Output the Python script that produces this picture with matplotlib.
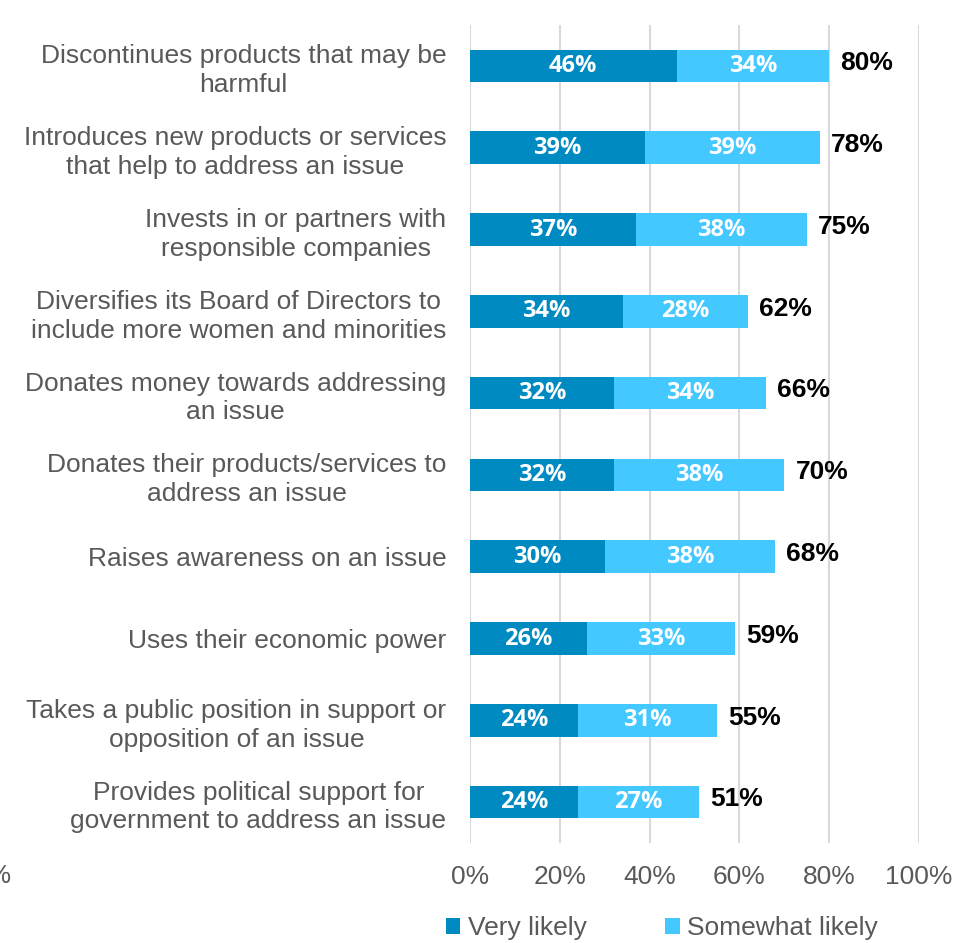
import matplotlib.pyplot as plt
import numpy as np

# Survey answers: how likely a company action is to change opinion
categories = [
    "Discontinues products that may be\nharmful",
    "Introduces new products or services\nthat help to address an issue",
    "Invests in or partners with\nresponsible companies",
    "Diversifies its Board of Directors to\ninclude more women and minorities",
    "Donates money towards addressing\nan issue",
    "Donates their products/services to\naddress an issue",
    "Raises awareness on an issue",
    "Uses their economic power",
    "Takes a public position in support or\nopposition of an issue",
    "Provides political support for\ngovernment to address an issue",
]
very_likely = [46, 39, 37, 34, 32, 32, 30, 26, 24, 24]
somewhat_likely = [34, 39, 38, 28, 34, 38, 38, 33, 31, 27]
x_ticks = [0, 20, 40, 60, 80, 100]

DARK = "#008AC2"
LIGHT = "#43C8FF"
GREY = "#595959"

fig = plt.figure(figsize=(9.55, 9.43), dpi=100)
ax = fig.add_axes([470 / 955, 1 - 843 / 943, 449 / 955, 818 / 943])

y = np.arange(len(categories))
very = np.array(very_likely)
some = np.array(somewhat_likely)
totals = very + some

ax.barh(y, very, height=0.4, color=DARK, label="Very likely", zorder=3)
ax.barh(y, some, left=very, height=0.4, color=LIGHT, label="Somewhat likely", zorder=3)

# values inside the segments
for yi, v, s in zip(y, very, some):
    ax.text(v / 2, yi, f"{v}%", ha="center", va="center", color="white",
            fontsize=17, fontweight="bold", family="Open Sans", zorder=4)
    ax.text(v + s / 2, yi, f"{s}%", ha="center", va="center", color="white",
            fontsize=17, fontweight="bold", family="Open Sans", zorder=4)
# totals to the right of each bar
for yi, t in zip(y, totals):
    ax.annotate(f"{t}%", (t, yi), xytext=(8, 2), textcoords="offset points",
                ha="left", va="center", fontsize=19, fontweight="bold",
                family="Liberation Sans", color="black", zorder=4)

ax.set_xlim(0, 100)
ax.set_ylim(len(categories) - 0.5, -0.5)
ax.set_xticks(x_ticks)
ax.set_xticklabels([f"{t}%" for t in x_ticks])
ax.set_yticks(y)
ax.set_yticklabels(categories, multialignment="center", linespacing=1.25)
ax.tick_params(axis="y", length=0, pad=17, labelsize=19, labelcolor=GREY)
ax.tick_params(axis="x", length=0, pad=16, labelsize=19, labelcolor=GREY)
for lab in ax.get_xticklabels() + ax.get_yticklabels():
    lab.set_family("Liberation Sans")

ax.grid(axis="x", color="#D9D9D9", linewidth=1.5, zorder=0)
for sp in ax.spines.values():
    sp.set_visible(False)

# cut-off tick label from the neighbouring panel
fig.text(11 / 955, 1 - 876 / 943, "0%", ha="right", va="center",
         fontsize=19, color=GREY, family="Liberation Sans")

fig.legend(loc="center", bbox_to_anchor=(662 / 955, 1 - 928 / 943), ncol=2,
           frameon=False, handlelength=0.55, handleheight=0.55, handletextpad=0.3,
           columnspacing=2.95, prop={"family": "Liberation Sans", "size": 19},
           labelcolor=GREY)

fig.savefig("out.png", dpi=100)
